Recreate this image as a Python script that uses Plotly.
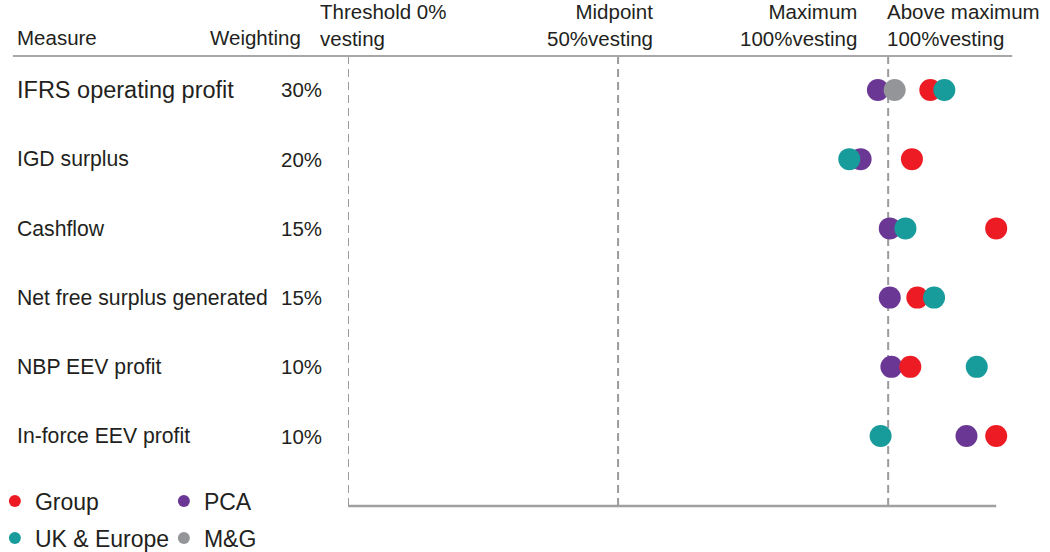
import plotly.graph_objects as go

measures = ["IFRS operating profit", "IGD surplus", "Cashflow",
            "Net free surplus generated", "NBP EEV profit", "In-force EEV profit"]
weightings = ["30%", "20%", "15%", "15%", "10%", "10%"]

# Performance as % of range (0 = threshold, 50 = midpoint, 100 = maximum)
series_names = ["PCA", "M&G", "Group", "UK & Europe"]
pca = [98.1, 94.9, 100.3, 100.3, 100.6, 114.5]
mg = [101.2, None, None, None, None, None]
group = [107.8, 104.4, 120.0, 105.4, 104.1, 120.0]
uk_europe = [110.4, 92.8, 103.2, 108.5, 116.4, 98.6]

markers_x = [0, 50, 100]
scale_end = 120
header_labels = ["Threshold 0%<br>vesting", "Midpoint<br>50%vesting",
                 "Maximum<br>100%vesting", "Above maximum<br>100%vesting"]

colors = {"Group": "#ED1C24", "PCA": "#6B3795", "UK & Europe": "#179C9B", "M&G": "#939598"}
values = {"PCA": pca, "M&G": mg, "Group": group, "UK & Europe": uk_europe}
legend_of = {"Group": "legend", "PCA": "legend", "UK & Europe": "legend2", "M&G": "legend2"}
legend_rank = {"Group": 1, "PCA": 2, "UK & Europe": 1, "M&G": 2}

FONT = "Liberation Sans, Arial, sans-serif"
TXT = "#231F20"

W, H = 1050, 552
X_MAX = 122
UNIT = 5.4
ML, MT, MB = 348, 56, 46
PW = X_MAX * UNIT
MR = W - ML - PW
PH = H - MT - MB


def px_x(px):
    return (px - ML) / PW


def px_y(py):
    return 1 - (py - MT) / PH


fig = go.Figure()
for name in series_names:
    fig.add_trace(go.Scatter(
        x=values[name], y=measures, mode="markers", name=name,
        marker=dict(size=22, color=colors[name], line=dict(width=0)),
        cliponaxis=False, legend=legend_of[name], legendrank=legend_rank[name],
        hoverinfo="x+name",
    ))

shapes = []
for xv in markers_x:
    shapes.append(dict(type="line", xref="x", yref="paper", x0=xv, x1=xv, y0=0, y1=1,
                       line=dict(color="#9B9B9D", width=2, dash="8px,5px"), layer="below"))
shapes.append(dict(type="line", xref="paper", yref="paper", x0=px_x(13), x1=px_x(1012),
                   y0=1, y1=1, line=dict(color="#A7A7A9", width=2)))
shapes.append(dict(type="line", xref="x", yref="paper", x0=0, x1=scale_end,
                   y0=0, y1=0, line=dict(color="#A0A0A2", width=2.5)))

annotations = []
for i, (m, w) in enumerate(zip(measures, weightings)):
    annotations.append(dict(text=m, xref="paper", yref="y", x=px_x(15), y=m,
                            xanchor="left", yanchor="middle", showarrow=False,
                            font=dict(size=23.5 if i == 0 else 21.2, color=TXT, family=FONT)))
    annotations.append(dict(text=w, xref="paper", yref="y", x=px_x(324), y=m,
                            xanchor="right", yanchor="middle", showarrow=False,
                            font=dict(size=20.5, color=TXT, family=FONT)))

hdr_font = dict(size=20.5, color=TXT, family=FONT)
annotations.append(dict(text="Measure", xref="paper", yref="paper", x=px_x(15), y=px_y(37),
                        xanchor="left", yanchor="middle", showarrow=False, font=hdr_font))
annotations.append(dict(text="Weighting", xref="paper", yref="paper", x=px_x(303), y=px_y(37),
                        xanchor="right", yanchor="middle", showarrow=False, font=hdr_font))
hdr_pos = [(318, "left"), (655, "right"), (859, "right"), (885, "left")]
for lab, (xp, al) in zip(header_labels, hdr_pos):
    annotations.append(dict(text=lab, xref="paper", yref="paper", x=px_x(xp), y=px_y(25),
                            xanchor=al, yanchor="middle", align=al, showarrow=False,
                            font=hdr_font))

leg_common = dict(orientation="h", itemsizing="constant", entrywidth=124,
                  entrywidthmode="pixels", font=dict(size=23, color=TXT, family=FONT),
                  bgcolor="rgba(0,0,0,0)", xanchor="left", yanchor="middle",
                  traceorder="normal", itemclick=False, itemdoubleclick=False)

fig.update_layout(
    width=W, height=H,
    margin=dict(l=ML, r=MR, t=MT, b=MB, pad=0, autoexpand=False),
    paper_bgcolor="white", plot_bgcolor="white",
    xaxis=dict(range=[0, X_MAX], showgrid=False, zeroline=False, showticklabels=False,
               ticks="", showline=False, fixedrange=True),
    yaxis=dict(range=[6.01, -0.49], showgrid=False, zeroline=False, showticklabels=False,
               ticks="", showline=False, fixedrange=True),
    shapes=shapes, annotations=annotations,
    legend=dict(x=px_x(-5), y=px_y(501), **leg_common),
    legend2=dict(x=px_x(-5), y=px_y(538), **leg_common),
    showlegend=True,
)

fig.write_html("out.html", config={"displayModeBar": False},
               post_script="document.body.style.margin='0px';document.body.style.overflow='hidden';")
